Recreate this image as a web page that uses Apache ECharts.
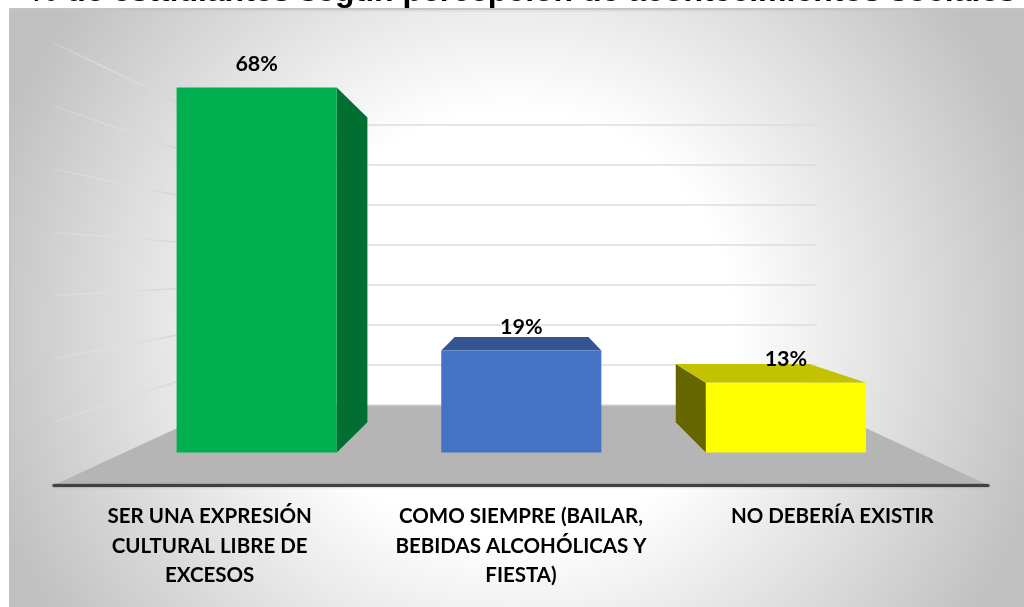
<!DOCTYPE html>
<html>
<head>
<meta charset="utf-8">
<script src="https://cdn.jsdelivr.net/npm/echarts@6/dist/echarts.min.js"></script>
<style>
  html, body { margin: 0; padding: 0; background: #fff; }
  #panel {
    position: absolute; left: 9px; top: 8px; width: 1015px; height: 599px; box-sizing: border-box;
    border-left: 1px solid #c2c2c2;
    background: radial-gradient(ellipse 551px 537px at 503px 317px, #fff 40%, #c0c0c0 100%);
  }
  #chart { position: absolute; left: 0; top: 0; width: 1024px; height: 607px; }
</style>
</head>
<body>
<div id="panel"></div>
<div id="chart"></div>
<script>
const titleText = '% de estudiantes según percepción de acontecimientos sociales';
const categories = [
  'SER UNA EXPRESIÓN\nCULTURAL LIBRE DE\nEXCESOS',
  'COMO SIEMPRE (BAILAR,\nBEBIDAS ALCOHÓLICAS Y\nFIESTA)',
  'NO DEBERÍA EXISTIR'
];
const values = [68, 19, 13];
const wallTicks = [10, 20, 30, 40, 50, 60, 70];

const faceColors = ['#00B050', '#4472C4', '#FFFF00'];
const topColors = ['#00803A', '#335593', '#C2C200'];
const sideColors = ['#006F31', '#2F5597', '#666600'];

// perspectiva: todo converge hacia este punto
const vanish = [523, 268.6];
const barFront = 0.85;
const barBack = 0.71;
const wallDepth = 0.633;
const halfBar = 0.3025;

function project(p, s) {
  return [vanish[0] + s * (p[0] - vanish[0]), vanish[1] + s * (p[1] - vanish[1])];
}

function renderFloor(params, api) {
  const band = api.size([1, 0])[0];
  const a = api.coord([0, 0]);
  const b = api.coord([categories.length - 1, 0]);
  const fl = [a[0] - band / 2, a[1]];
  const fr = [b[0] + band / 2, b[1]];
  return {
    type: 'polygon',
    shape: { points: [fl, fr, project(fr, wallDepth), project(fl, wallDepth)] },
    style: { fill: '#B5B5B5' }
  };
}

function renderWallLine(params, api) {
  const band = api.size([1, 0])[0];
  const c = api.coord([0, api.value(0)]);
  const start = [c[0] - band / 2, c[1]];
  const end = project(start, wallDepth);
  return {
    type: 'line',
    shape: { x1: start[0], y1: start[1], x2: end[0], y2: end[1] },
    style: {
      lineWidth: 1.5,
      stroke: new echarts.graphic.LinearGradient(0, 0, 1, 0, [
        { offset: 0, color: 'rgba(235,235,235,0.25)' },
        { offset: 0.35, color: 'rgba(225,225,225,0.6)' },
        { offset: 0.7, color: 'rgba(212,212,212,0.9)' },
        { offset: 1, color: '#d4d4d4' }
      ])
    }
  };
}

function renderBar(params, api) {
  const i = api.value(0);
  const v = api.value(1);
  const band = api.size([1, 0])[0];
  const corner = (side, y, s) => {
    const c = api.coord([i, y]);
    return project([c[0] + side * halfBar * band, c[1]], s);
  };
  const fbl = corner(-1, 0, barFront);
  const fbr = corner(1, 0, barFront);
  const ftl = corner(-1, v, barFront);
  const ftr = corner(1, v, barFront);
  const bbl = corner(-1, 0, barBack);
  const bbr = corner(1, 0, barBack);
  const btl = corner(-1, v, barBack);
  const btr = corner(1, v, barBack);
  const children = [];
  if (bbr[0] > fbr[0]) {
    children.push({ type: 'polygon', shape: { points: [fbr, bbr, btr, ftr] }, style: { fill: sideColors[i] } });
  }
  if (bbl[0] < fbl[0]) {
    children.push({ type: 'polygon', shape: { points: [fbl, bbl, btl, ftl] }, style: { fill: sideColors[i] } });
  }
  if (btl[1] < ftl[1]) {
    children.push({ type: 'polygon', shape: { points: [ftl, ftr, btr, btl] }, style: { fill: topColors[i] } });
  }
  children.push({ type: 'polygon', shape: { points: [fbl, fbr, ftr, ftl] }, style: { fill: faceColors[i] } });
  children.push({
    type: 'text',
    z2: 10,
    style: {
      x: (ftl[0] + ftr[0]) / 2,
      y: ftl[1] - 24,
      text: v + '%',
      align: 'center',
      verticalAlign: 'middle',
      fill: '#000',
      font: 'bold 21.5px Lato'
    }
  });
  return { type: 'group', children: children };
}

const chart = echarts.init(document.getElementById('chart'), null, { renderer: 'canvas' });
chart.setOption({
  animation: false,
  backgroundColor: 'transparent',
  title: {
    text: titleText,
    left: 29,
    top: -24,
    padding: 0,
    textStyle: { fontFamily: 'Liberation Sans', fontWeight: 'bold', fontSize: 32, color: '#000' }
  },
  // borde superior del panel, tapa los descendentes del título
  graphic: [{
    type: 'rect',
    left: 9,
    top: 8,
    z: 100,
    shape: { width: 1015, height: 2 },
    style: { fill: '#c4c4c4' }
  }, {
    type: 'rect',
    left: 10,
    top: 10,
    z: 100,
    shape: { width: 1014, height: 2 },
    style: { fill: 'rgba(200,200,200,0.25)' }
  }],
  grid: [
    // plano frontal del suelo, donde van el eje y las etiquetas
    { left: 54, right: 36, top: 43, height: 442 },
    // pared del fondo, solo aporta las líneas de división
    { left: 226, right: 207, top: 125, height: 280 }
  ],
  xAxis: [
    {
      type: 'category',
      gridIndex: 0,
      data: categories,
      z: 5,
      axisTick: { show: false },
      axisLine: { lineStyle: { color: '#404040', width: 3, shadowBlur: 2, shadowColor: 'rgba(0,0,0,0.4)' } },
      axisLabel: {
        interval: 0,
        margin: 17,
        color: '#000',
        fontFamily: 'Lato',
        fontWeight: 'bold',
        fontSize: 20.5,
        lineHeight: 29.5,
        verticalAlign: 'top'
      }
    },
    { type: 'category', gridIndex: 1, data: categories, show: false }
  ],
  yAxis: [
    { type: 'value', gridIndex: 0, min: 0, max: 70, interval: 10, show: false, splitLine: { show: false } },
    {
      type: 'value',
      gridIndex: 1,
      min: 0,
      max: 70,
      interval: 10,
      axisLine: { show: false },
      axisTick: { show: false },
      axisLabel: { show: false },
      splitLine: { show: true, lineStyle: { color: '#dcdcdc', width: 1.5 } }
    }
  ],
  series: [
    {
      type: 'custom',
      name: 'pared',
      xAxisIndex: 0,
      yAxisIndex: 0,
      z: 1,
      silent: true,
      renderItem: renderWallLine,
      encode: { y: 0 },
      data: wallTicks.map(t => [t])
    },
    {
      type: 'custom',
      name: 'suelo',
      xAxisIndex: 0,
      yAxisIndex: 0,
      z: 2,
      silent: true,
      renderItem: renderFloor,
      data: [[0]]
    },
    {
      type: 'custom',
      name: '% de estudiantes',
      xAxisIndex: 0,
      yAxisIndex: 0,
      z: 3,
      renderItem: renderBar,
      encode: { x: 0, y: 1 },
      data: values.map((v, i) => [i, v])
    }
  ]
});
</script>
</body>
</html>
